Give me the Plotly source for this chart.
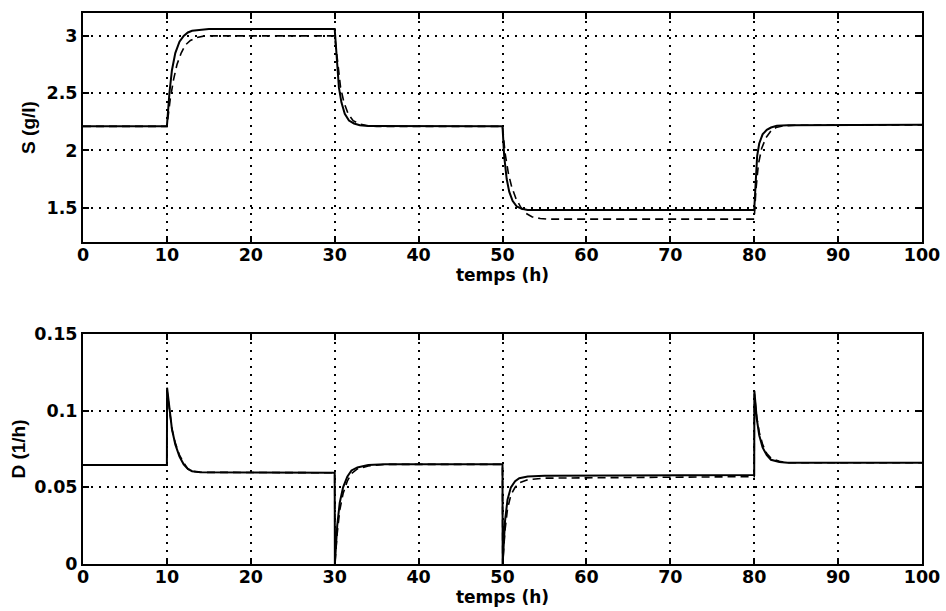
import plotly.graph_objects as go
from plotly.subplots import make_subplots

# ---- Substrate S (g/l): solid = measured, dashed = reference ----
t_S_solid = [0, 10, 10.3, 10.6, 11, 11.5, 12, 12.5, 13, 14, 15, 30, 30.2, 30.5, 30.8, 31.2, 31.7, 32.3, 33, 34, 50,
             50.2, 50.5, 50.8, 51.2, 51.7, 52.3, 53, 80, 80.15, 80.35, 80.6, 81, 81.5, 82, 82.7, 84, 100]
S_solid = [2.21, 2.21, 2.5, 2.7, 2.85, 2.95, 3.0, 3.03, 3.045, 3.055, 3.06, 3.06, 2.85, 2.55, 2.42, 2.32, 2.26, 2.235, 2.22, 2.212, 2.21,
           1.95, 1.75, 1.64, 1.56, 1.51, 1.49, 1.48, 1.48, 1.75, 1.95, 2.06, 2.14, 2.18, 2.2, 2.215, 2.22, 2.225]

t_S_dash = [0, 10, 10.4, 10.8, 11.2, 11.7, 12.2, 12.8, 13.5, 14.5, 30, 30.3, 30.7, 31.1, 31.6, 32.2, 33, 34, 35, 50,
            50.3, 50.7, 51.1, 51.6, 52.2, 52.8, 53.5, 54.5, 55.5, 80, 80.2, 80.5, 80.9, 81.4, 82, 82.6, 83.5, 85, 100]
S_dash = [2.21, 2.21, 2.45, 2.62, 2.75, 2.85, 2.92, 2.96, 2.985, 3.0, 3.0, 2.8, 2.55, 2.42, 2.32, 2.26, 2.23, 2.215, 2.21, 2.21,
          1.98, 1.8, 1.68, 1.58, 1.5, 1.45, 1.42, 1.405, 1.40, 1.40, 1.65, 1.88, 2.02, 2.11, 2.17, 2.2, 2.215, 2.22, 2.222]

# ---- Dilution rate D (1/h) ----
t_D_solid = [0, 10, 10.02, 10.3, 10.6, 11, 11.5, 12, 12.5, 13, 14, 30, 30.02, 30.3, 30.6, 31, 31.5, 32, 32.7, 34, 36, 50,
             50.02, 50.3, 50.6, 51, 51.5, 52, 53, 55, 80, 80.02, 80.3, 80.6, 81, 81.5, 82, 83, 84, 100]
D_solid = [0.0645, 0.0645, 0.115, 0.1, 0.088, 0.078, 0.07, 0.065, 0.062, 0.0605, 0.0598, 0.0595, 0.0, 0.025, 0.04, 0.05, 0.057, 0.061, 0.063, 0.0645, 0.065, 0.065,
           0.0, 0.028, 0.042, 0.05, 0.054, 0.056, 0.057, 0.0575, 0.058, 0.113, 0.095, 0.084, 0.076, 0.071, 0.068, 0.0665, 0.066, 0.066]

t_D_dash = [0, 10, 10.02, 10.3, 10.6, 11, 11.5, 12, 12.5, 13, 14, 30, 30.02, 30.3, 30.6, 31, 31.5, 32, 32.7, 34, 36, 50,
            50.02, 50.3, 50.6, 51, 51.5, 52, 53, 55, 80, 80.02, 80.3, 80.6, 81, 81.5, 82, 83, 84, 100]
D_dash = [0.0645, 0.0645, 0.113, 0.099, 0.088, 0.079, 0.071, 0.066, 0.062, 0.0605, 0.0598, 0.0595, 0.0, 0.02, 0.035, 0.046, 0.054, 0.059, 0.062, 0.064, 0.065, 0.065,
          0.0, 0.022, 0.036, 0.045, 0.05, 0.053, 0.055, 0.056, 0.057, 0.111, 0.096, 0.086, 0.078, 0.072, 0.069, 0.067, 0.066, 0.066]

x_ticks = [0, 10, 20, 30, 40, 50, 60, 70, 80, 90, 100]
S_ticks = [1.5, 2, 2.5, 3]
S_tick_text = ["1.5", "2", "2.5", "3"]
D_ticks = [0, 0.05, 0.1, 0.15]
D_tick_text = ["0", "0.05", "0.1", "0.15"]

fig = make_subplots(rows=2, cols=1, vertical_spacing=0.0)

fig.add_trace(go.Scatter(x=t_S_dash, y=S_dash, mode="lines",
                         line=dict(color="black", width=1.6, dash="8px,5px")), row=1, col=1)
fig.add_trace(go.Scatter(x=t_S_solid, y=S_solid, mode="lines",
                         line=dict(color="black", width=2)), row=1, col=1)
fig.add_trace(go.Scatter(x=t_D_dash, y=D_dash, mode="lines",
                         line=dict(color="black", width=1.6, dash="8px,5px")), row=2, col=1)
fig.add_trace(go.Scatter(x=t_D_solid, y=D_solid, mode="lines",
                         line=dict(color="black", width=2)), row=2, col=1)

font_main = "DejaVu Sans, Liberation Sans, sans-serif"
font_title = "Liberation Sans, Arial, sans-serif"
axis_common = dict(
    showline=True, linecolor="black", linewidth=2, mirror="ticks",
    ticks="inside", ticklen=6, tickwidth=2, tickcolor="black",
    showgrid=True, gridcolor="black", gridwidth=1.5, griddash="2px,6px",
    zeroline=False, automargin=False,
    tickfont=dict(family=font_main, size=17.5, color="black", weight="bold"),
)

xtitle_font = dict(family=font_main, size=17, color="black", weight="bold")
fig.update_xaxes(range=[0, 100], tickvals=x_ticks, ticklabelstandoff=-4, **axis_common)
fig.update_xaxes(title=dict(text="temps (h)", standoff=0, font=xtitle_font), row=1, col=1)
fig.update_xaxes(title=dict(text="temps (h)", standoff=2, font=xtitle_font), row=2, col=1)

ytitle_font = dict(family=font_title, size=19, color="black", weight="bold")
fig.update_yaxes(range=[1.2, 3.2], tickvals=S_ticks, ticktext=S_tick_text,
                 title=dict(text="S (g/l)", standoff=6, font=ytitle_font),
                 domain=[0.5844, 1.0], **axis_common, row=1, col=1)
fig.update_yaxes(range=[0, 0.15], tickvals=D_ticks, ticktext=D_tick_text,
                 title=dict(text="D (1/h)", standoff=4, font=ytitle_font),
                 domain=[0.0, 0.4174], **axis_common, row=2, col=1)

fig.update_layout(
    width=946, height=611,
    margin=dict(l=83, r=24, t=13, b=47),
    paper_bgcolor="white", plot_bgcolor="white",
    showlegend=False,
)

fig.write_html("out.html")
